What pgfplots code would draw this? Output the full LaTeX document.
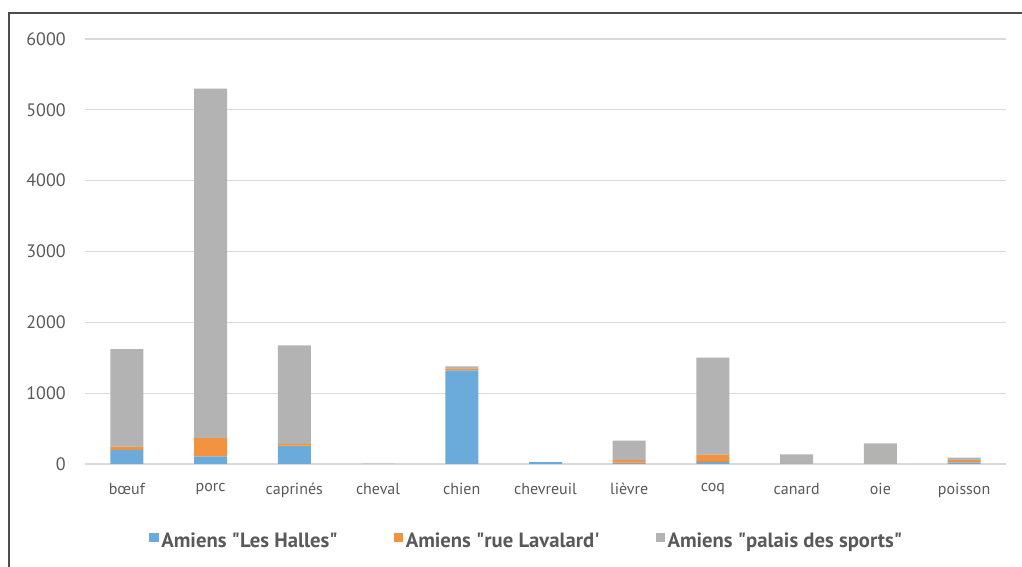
\documentclass[border=0pt]{standalone}
\usepackage{fontspec}
\setmainfont{PT Sans}
\usepackage{pgfplots}
\pgfplotsset{compat=1.18}

\definecolor{halles}{HTML}{6AABDC}
\definecolor{lavalard}{HTML}{F39340}
\definecolor{palais}{HTML}{B3B3B3}
\definecolor{txtgray}{HTML}{595959}
\definecolor{gridgray}{HTML}{D9D9D9}

% values (counts per taxon and site)
\pgfplotstableread{
x  halles lavalard palais
0  200    50       1370
1  107    260      4933
2  258    27       1390
3  2      0        1
4  1322   28       28
5  25     0        3
6  18     38       273
7  42     94       1365
8  0      3        133
9  0      10       281
10 22     34       33
}\bones

\begin{document}
\begin{tikzpicture}
\useasboundingbox (0pt,0pt) rectangle (766.5pt,425.25pt);
% outer chart frame (only top and left visible)
\draw[black!70, line width=0.9pt] (6.75pt,-5pt) -- (6.75pt,415.5pt) -- (780pt,415.5pt);

\begin{axis}[
  at={(63.75pt,77.25pt)}, anchor=south west,
  scale only axis,
  width=690.75pt, height=318.75pt,
  ybar stacked,
  bar width=24.75pt,
  xmin=-0.5, xmax=10.5,
  ymin=0, ymax=6000,
  ytick={0,1000,...,6000},
  xtick={0,...,10},
  xticklabels={b\oe uf,porc,caprinés,cheval,chien,chevreuil,lièvre,coq,canard,oie,poisson},
  major tick length=0pt,
  axis x line*=bottom,
  axis y line*=left,
  x axis line style={gridgray, line width=1pt, -},
  y axis line style={draw=none},
  ymajorgrids,
  grid style={gridgray, line width=0.8pt},
  /pgf/number format/assume math mode=true,
  /pgf/number format/set thousands separator={},
  yticklabel style={font=\fontsize{13.5}{15}\selectfont, text=txtgray, xshift=-11pt},
  xticklabel style={font=\fontsize{12}{14}\selectfont, text=txtgray, yshift=-11pt},
  legend columns=3,
  legend style={at={(0.48,-0.181)}, anchor=center, draw=none, fill=none,
    font=\bfseries\fontsize{15.5}{17}\selectfont, text=txtgray,
    /tikz/every even column/.append style={column sep=40pt}},
  legend image code/.code={\fill[#1] (0pt,-1pt) rectangle (7pt,6pt);},
  clip=false,
]
\addplot[fill=halles, draw=none] table[x=x, y=halles] {\bones};
\addlegendentry{Amiens \textquotedbl Les Halles\textquotedbl}
\addplot[fill=lavalard, draw=none] table[x=x, y=lavalard] {\bones};
\addlegendentry{Amiens \textquotedbl rue Lavalard\textquotesingle}
\addplot[fill=palais, draw=none] table[x=x, y=palais] {\bones};
\addlegendentry{Amiens \textquotedbl palais des sports\textquotedbl}
\end{axis}
\end{tikzpicture}
\end{document}
